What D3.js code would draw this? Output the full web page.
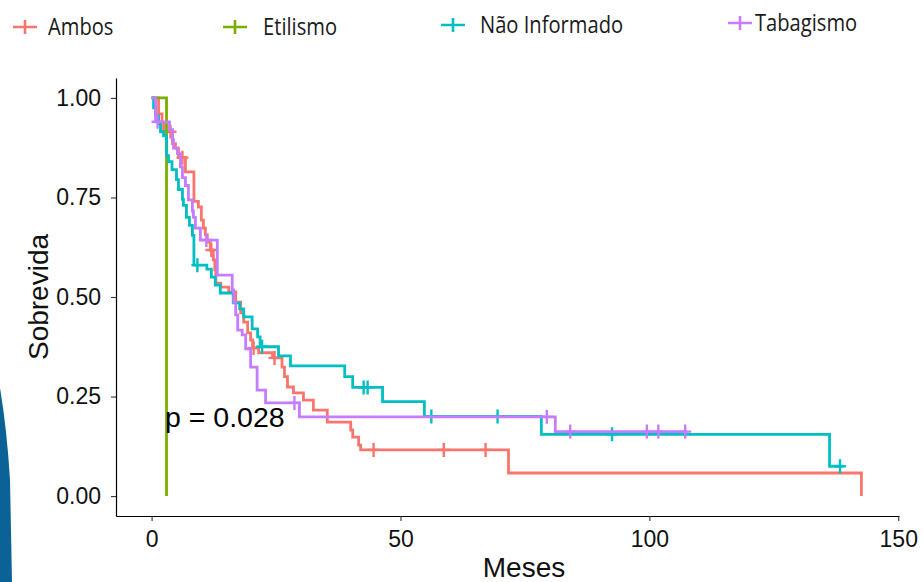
<!DOCTYPE html>
<html>
<head>
<meta charset="utf-8">
<script src="https://cdn.jsdelivr.net/npm/d3@7"></script>
<style>
  html, body { margin: 0; padding: 0; background: #fff; }
  svg { display: block; }
</style>
</head>
<body>
<div id="chart"></div>
<script>
// groups, in the order ggsurvplot draws them
var groups = ["Ambos", "Etilismo", "Não Informado", "Tabagismo"];
var colors = ["#F8766D", "#7CAE00", "#00BFC4", "#C77CFF"];

// Kaplan-Meier steps (months, survival after that time)
var ambosTime = [0, 1.4, 2.1, 2.4, 4.2, 4.8, 5.4, 6.8, 8.5, 9.4, 10.0, 10.4, 10.8, 11.2, 11.8, 12.4, 12.7, 12.9, 13.9, 15.5,
  16.9, 17.9, 18.5, 19.3, 19.9, 20.3, 21.5, 24.3, 26.2, 26.7, 27.3, 28.5, 30.5, 32.5, 35.3, 40.0, 40.4, 41.6, 42.0, 71.7, 142.6];
var ambosSurv = [1, 0.96, 0.937, 0.915, 0.885, 0.874, 0.85, 0.814, 0.74, 0.726, 0.693, 0.673, 0.656, 0.638, 0.618, 0.593, 0.568, 0.535, 0.525, 0.513,
  0.487, 0.46, 0.437, 0.41, 0.392, 0.372, 0.36, 0.347, 0.324, 0.30, 0.274, 0.259, 0.241, 0.216, 0.186, 0.166, 0.148, 0.128, 0.116, 0.058, 0];
var ambosCensor = [3.8, 6.2, 12.0, 20.5, 24.7, 44.6, 58.7, 67.1];

var etilismoTime = [0, 3.0];
var etilismoSurv = [1, 0];
var etilismoCensor = [];

var naoInfTime = [0, 0.4, 0.8, 1.4, 1.8, 2.4, 3.0, 3.4, 4.1, 5.0, 5.4, 6.2, 6.4, 7.0, 7.6, 8.2, 8.5, 11.1, 12.0, 12.8, 13.8,
  16.4, 17.7, 18.5, 20.2, 21.3, 21.8, 25.5, 27.9, 38.8, 40.4, 46.4, 54.8, 78.3, 136.2, 139];
var naoInfSurv = [1, 0.975, 0.955, 0.935, 0.915, 0.905, 0.855, 0.84, 0.82, 0.795, 0.77, 0.745, 0.73, 0.70, 0.68, 0.655, 0.58, 0.57, 0.55, 0.53, 0.51,
  0.485, 0.47, 0.45, 0.42, 0.40, 0.375, 0.352, 0.327, 0.30, 0.273, 0.237, 0.20, 0.155, 0.075, 0.075];
var naoInfCensor = [9.2, 22.2, 42.6, 43.4, 56.2, 69.5, 92.5, 138.3];

var tabagTime = [0, 0.8, 3.6, 4.2, 4.4, 5.2, 5.8, 6.2, 6.8, 7.4, 8.2, 8.4, 8.8, 9.8, 13.2, 16.2, 16.5, 16.9, 17.3, 18.2,
  18.9, 19.9, 21.2, 22.9, 29.7, 81.1, 107.5];
var tabagSurv = [1, 0.94, 0.92, 0.895, 0.874, 0.86, 0.827, 0.80, 0.78, 0.744, 0.716, 0.70, 0.673, 0.643, 0.555, 0.518, 0.487, 0.455, 0.417, 0.405,
  0.37, 0.324, 0.266, 0.234, 0.199, 0.162, 0.162];
var tabagCensor = [1.2, 11.0, 28.7, 79.4, 84.1, 99.5, 101.8, 107.2];

var xTicks = [0, 50, 100, 150];
var yTicks = [0, 0.25, 0.5, 0.75, 1];
var pText = "p = 0.028";

var series = [
  { name: groups[0], time: ambosTime, surv: ambosSurv, censor: ambosCensor },
  { name: groups[1], time: etilismoTime, surv: etilismoSurv, censor: etilismoCensor },
  { name: groups[2], time: naoInfTime, surv: naoInfSurv, censor: naoInfCensor },
  { name: groups[3], time: tabagTime, surv: tabagSurv, censor: tabagCensor }
];

var width = 923, height = 582;
var svg = d3.select("#chart").append("svg").attr("width", width).attr("height", height);

// bit of the slide background peeking in on the left
svg.append("path")
  .attr("d", "M0,388 Q7,430 10,480 L12,582 L0,582 Z")
  .attr("fill", "#0b6296");

// ggplot style 5% expansion around 0..143 and 0..1
var x = d3.scaleLinear().domain([-7.15, 150.15]).range([116, 899]);
var y = d3.scaleLinear().domain([-0.05, 1.05]).range([516, 78]);

var axisFont = "'Liberation Sans', Arial, sans-serif";

var xAxis = svg.append("g")
  .attr("transform", "translate(0,516)")
  .call(d3.axisBottom(x).tickValues(xTicks).tickFormat(d3.format("d")).tickSize(5).tickSizeOuter(0).tickPadding(10));
var yAxis = svg.append("g")
  .attr("transform", "translate(116,0)")
  .call(d3.axisLeft(y).tickValues(yTicks).tickFormat(d3.format(".2f")).tickSize(5).tickSizeOuter(0).tickPadding(10));

[xAxis, yAxis].forEach(function (g) {
  g.select(".domain").attr("stroke", "#000").attr("stroke-width", 1.2);
  g.selectAll(".tick line").attr("stroke", "#333").attr("stroke-width", 1.1);
  g.selectAll(".tick text").attr("fill", "#111").style("font-family", axisFont).style("font-size", "23px");
});

svg.append("text")
  .attr("x", 524).attr("y", 577)
  .attr("text-anchor", "middle")
  .style("font-family", axisFont).style("font-size", "28px").attr("fill", "#111")
  .text("Meses");

svg.append("text")
  .attr("transform", "translate(48,297) rotate(-90)")
  .attr("text-anchor", "middle")
  .style("font-family", axisFont).style("font-size", "28px").attr("fill", "#111")
  .text("Sobrevida");

// survival at time t (step function)
function survAt(s, t) {
  var v = s.surv[0];
  for (var i = 0; i < s.time.length; i++) {
    if (s.time[i] <= t) v = s.surv[i];
  }
  return v;
}

var line = d3.line()
  .x(function (d) { return x(d[0]); })
  .y(function (d) { return y(d[1]); })
  .curve(d3.curveStepAfter);

function plus(cx, cy, w, h) {
  return "M" + (cx - w) + "," + cy + "H" + (cx + w) + "M" + cx + "," + (cy - h) + "V" + (cy + h);
}

series.forEach(function (s, i) {
  var pts = s.time.map(function (t, j) { return [t, s.surv[j]]; });
  var g = svg.append("g");
  g.append("path")
    .attr("d", line(pts))
    .attr("fill", "none")
    .attr("stroke", colors[i])
    .attr("stroke-width", 2.8);
  g.selectAll("path.censor")
    .data(s.censor)
    .enter().append("path")
    .attr("class", "censor")
    .attr("d", function (t) { return plus(x(t), y(survAt(s, t)), 6, 7); })
    .attr("stroke", colors[i])
    .attr("stroke-width", 2.4);
});

svg.append("text")
  .attr("x", 165).attr("y", 427)
  .style("font-family", axisFont).style("font-size", "28.5px").attr("fill", "#000")
  .text(pText);

// legend on top
var legendX = [25, 235, 453, 740];
var legendY = [27, 27, 25, 23];
var legendTextX = [48, 263, 480, 755];
var legend = svg.append("g");
groups.forEach(function (name, i) {
  legend.append("path")
    .attr("d", plus(legendX[i], legendY[i], 12, 7))
    .attr("stroke", colors[i])
    .attr("stroke-width", 2.6);
  legend.append("text")
    .attr("transform", "translate(" + legendTextX[i] + "," + (legendY[i] + 8) + ") scale(0.96,1.12)")
    .style("font-family", "'Open Sans', sans-serif").style("font-size", "21px").attr("fill", "#1a1a1a")
    .text(name);
});
</script>
</body>
</html>
